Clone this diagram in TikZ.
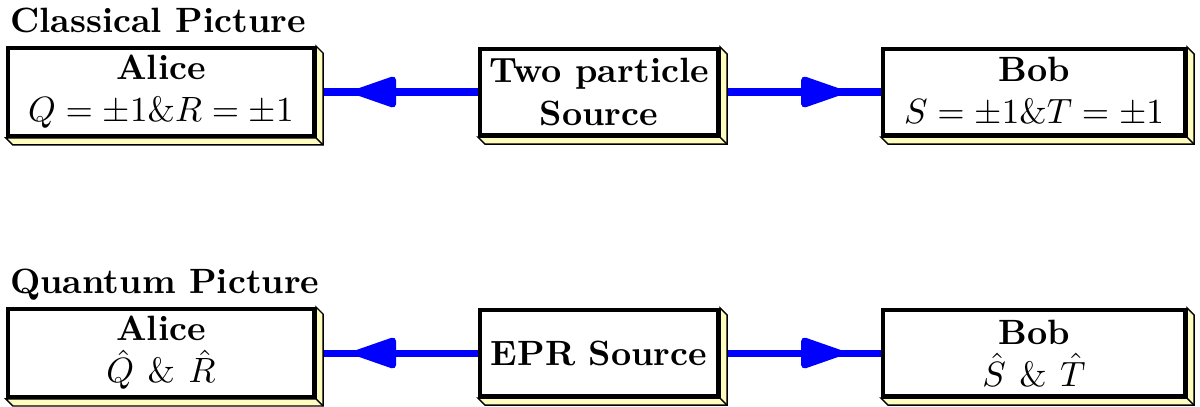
\documentclass[tikz,border=0pt]{standalone}
\usepackage{amsmath,amssymb}
\usepackage{tikz}
\usetikzlibrary{arrows.meta,decorations.markings,calc}

\begin{document}
\begin{tikzpicture}[
      every node/.style={font=\normalsize},
      box/.style={draw,line width=1.2pt,fill=white,align=center,font=\bfseries,
        minimum height=0.86cm,inner sep=2pt},
      title/.style={font=\bfseries,anchor=base west,inner sep=0pt},
      beam/.style={blue,line width=2pt,postaction={decorate},
        decoration={markings,mark=at position 0.76 with
          {\arrow{Triangle[length=14pt,width=9pt,round]}}}},
      side/.style={fill=yellow!25,draw,line width=0.4pt}]
      \useasboundingbox (0,0) rectangle (12,-4.06);
      % classical row
      \node[box,minimum width=3.06cm] (aliceC) at (1.61,-0.92) {Alice\\$Q=\pm1\&R=\pm1$};
      \node[box,minimum width=2.38cm] (srcC) at (5.99,-0.92) {Two particle\\Source};
      \node[box,minimum width=3.02cm] (bobC) at (10.34,-0.92) {Bob\\$S=\pm1\&T=\pm1$};
      \node[title] (tC) at ([xshift=1pt,yshift=4pt]aliceC.north west) {Classical Picture};
      % quantum row
      \node[box,minimum width=3.06cm] (aliceQ) at (1.61,-3.53) {Alice\\$\hat{Q}\ \&\ \hat{R}$};
      \node[box,minimum width=2.38cm] (srcQ) at (5.99,-3.53) {EPR Source};
      \node[box,minimum width=3.02cm] (bobQ) at (10.34,-3.53) {Bob\\$\hat{S}\ \&\ \hat{T}$};
      \node[title] (tQ) at ([xshift=1pt,yshift=4pt]aliceQ.north west) {Quantum Picture};
      % particles flying out of the sources
      \draw[beam] (srcC.west) -- (aliceC.east);
      \draw[beam] (srcC.east) -- (bobC.west);
      \draw[beam] (srcQ.west) -- (aliceQ.east);
      \draw[beam] (srcQ.east) -- (bobQ.west);
      % raised sides of the boxes
      \foreach \n in {aliceC,srcC,bobC,aliceQ,srcQ,bobQ}{
        \filldraw[side] (\n.north east) -- ++(2pt,-2pt)
          -- ($(\n.south east)+(2pt,-2pt)$) -- ($(\n.south west)+(2pt,-2pt)$)
          -- (\n.south west) -- (\n.south east) -- cycle;
        \draw[line width=0.4pt] (\n.south east) -- ++(2pt,-2pt);
      }
    \end{tikzpicture}
\end{document}
